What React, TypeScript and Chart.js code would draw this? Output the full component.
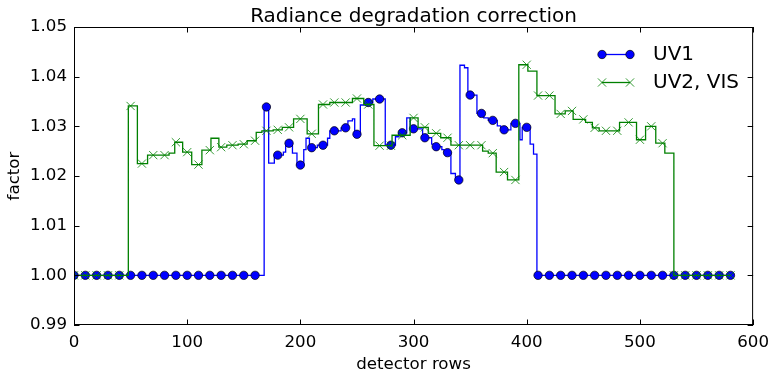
import React, { useEffect, useRef } from 'react';
import { Chart, registerables } from 'chart.js';

Chart.register(...registerables);

const chartTitle = 'Radiance degradation correction';
const xAxisTitle = 'detector rows';
const yAxisTitle = 'factor';
const seriesNames = ['UV1', 'UV2, VIS'];
const seriesColors = ['#0000ff', '#008000'];
const xTickLabels = ['0', '100', '200', '300', '400', '500', '600'];
const yTickLabels = ['0.99', '1.00', '1.01', '1.02', '1.03', '1.04', '1.05'];

// rows carrying a marker
const markerRows = [
  0, 10, 20, 30, 40, 50, 60, 70, 80, 90, 100, 110, 120, 130, 140, 150, 160, 170, 180, 190,
  200, 210, 220, 230, 240, 250, 260, 270, 280, 290, 300, 310, 320, 330, 340, 350, 360, 370, 380, 390,
  400, 410, 420, 430, 440, 450, 460, 470, 480, 490, 500, 510, 520, 530, 540, 550, 560, 570, 580,
];

const uv1MarkerValues = [
  1.0, 1.0, 1.0, 1.0, 1.0, 1.0, 1.0, 1.0, 1.0, 1.0, 1.0, 1.0, 1.0, 1.0, 1.0, 1.0, 1.0,
  1.0339, 1.0242, 1.0266, 1.0222, 1.0257, 1.0262, 1.0291, 1.0297, 1.0284, 1.0348, 1.0355,
  1.0262, 1.0287, 1.0295, 1.0277, 1.0259, 1.0247, 1.0192, 1.0363, 1.0326, 1.0312, 1.0293,
  1.0306, 1.0298,
  1.0, 1.0, 1.0, 1.0, 1.0, 1.0, 1.0, 1.0, 1.0, 1.0, 1.0, 1.0, 1.0, 1.0, 1.0, 1.0, 1.0, 1.0,
];

const uv2MarkerValues = [
  1.0, 1.0, 1.0, 1.0, 1.0,
  1.0341, 1.0225, 1.0242, 1.0242, 1.0268, 1.0248, 1.0223, 1.0252, 1.0258, 1.0262, 1.0264,
  1.0271, 1.0291, 1.0293, 1.0298, 1.0315, 1.0285, 1.0344, 1.0348, 1.0348, 1.0356, 1.0344,
  1.0261, 1.0261, 1.0282, 1.0317, 1.0298, 1.0286, 1.0277, 1.0262, 1.0262, 1.0262, 1.0246,
  1.0208, 1.0192, 1.0424, 1.0362, 1.0362, 1.0325, 1.0331, 1.0314, 1.0297, 1.0291, 1.0291,
  1.0308, 1.0273, 1.03, 1.0266,
  1.0, 1.0, 1.0, 1.0, 1.0, 1.0,
];

// per-row step curves: value holds from each row until the next listed row
const uv1StepRows = [
  0, 168, 172, 177, 185, 187, 193, 197, 203, 205, 208, 215, 224, 226, 236, 242, 246, 248, 253,
  257, 264, 275, 284, 287, 294, 297, 308, 316, 318, 325, 327, 333, 337, 341, 345, 348, 356, 362,
  366, 374, 377, 386, 394, 396, 403, 406, 409, 580,
];
const uv1StepValues = [
  1.0, 1.0339, 1.0226, 1.0242, 1.0248, 1.0266, 1.0246, 1.0222, 1.0253, 1.0276, 1.0257, 1.0262,
  1.0276, 1.0291, 1.0297, 1.0311, 1.0315, 1.0284, 1.0343, 1.0348, 1.0355, 1.0262, 1.0279, 1.0287,
  1.0317, 1.0295, 1.0277, 1.0264, 1.0259, 1.0253, 1.0247, 1.0205, 1.0192, 1.0423, 1.0418, 1.0363,
  1.0326, 1.0317, 1.0312, 1.0301, 1.0293, 1.0306, 1.0273, 1.0298, 1.0264, 1.0244, 1.0, 1.0,
];

const uv2StepRows = [
  0, 48, 56, 65, 84, 89, 96, 104, 113, 121, 128, 135, 145, 153, 161, 166, 176, 184, 194, 206,
  216, 226, 246, 256, 265, 281, 297, 304, 313, 324, 333, 361, 366, 373, 383, 393, 401, 409, 425,
  434, 441, 452, 458, 464, 482, 497, 505, 514, 522, 530, 580,
];
const uv2StepValues = [
  1.0, 1.0341, 1.0225, 1.0242, 1.0246, 1.0268, 1.0248, 1.0223, 1.0252, 1.0276, 1.0258, 1.0262,
  1.0264, 1.0271, 1.0288, 1.0291, 1.0293, 1.0298, 1.0315, 1.0285, 1.0344, 1.0348, 1.0356, 1.0344,
  1.0261, 1.0282, 1.0317, 1.0298, 1.0286, 1.0277, 1.0262, 1.025, 1.0246, 1.0208, 1.0192, 1.0424,
  1.0411, 1.0362, 1.0325, 1.0331, 1.0314, 1.0308, 1.0297, 1.0291, 1.0308, 1.0273, 1.03, 1.0266,
  1.0246, 1.0, 1.0,
];

const FONT = '"DejaVu Sans", "Liberation Sans", sans-serif';
const TICK_FONT_SIZE = 16.67;
const BIG_FONT_SIZE = 20;

function drawMarker(ctx: CanvasRenderingContext2D, kind: number, x: number, y: number) {
  ctx.save();
  if (kind === 0) {
    ctx.beginPath();
    ctx.arc(x, y, 4.2, 0, Math.PI * 2);
    ctx.fillStyle = seriesColors[0];
    ctx.fill();
    ctx.lineWidth = 0.7;
    ctx.strokeStyle = '#000';
    ctx.stroke();
  } else {
    const d = 4.1;
    ctx.beginPath();
    ctx.moveTo(x - d, y - d);
    ctx.lineTo(x + d, y + d);
    ctx.moveTo(x - d, y + d);
    ctx.lineTo(x + d, y - d);
    ctx.lineWidth = 0.8;
    ctx.strokeStyle = seriesColors[1];
    ctx.stroke();
  }
  ctx.restore();
}

const decorPlugin = {
  id: 'decor',
  afterDatasetsDraw(chart: any) {
    const { ctx, chartArea, scales } = chart;
    const { left, right, top, bottom } = chartArea;
    ctx.save();
    ctx.strokeStyle = '#000';
    ctx.lineWidth = 1;
    ctx.strokeRect(left + 0.5, top + 0.5, right - left - 1, bottom - top - 1);
    const tl = 5.5;
    ctx.beginPath();
    for (const lab of xTickLabels) {
      const px = Math.round(scales.x.getPixelForValue(Number(lab))) + 0.5;
      ctx.moveTo(px, bottom);
      ctx.lineTo(px, bottom - tl);
      ctx.moveTo(px, top);
      ctx.lineTo(px, top + tl);
    }
    for (const lab of yTickLabels) {
      const py = Math.round(scales.y.getPixelForValue(Number(lab))) + 0.5;
      ctx.moveTo(left, py);
      ctx.lineTo(left + tl, py);
      ctx.moveTo(right, py);
      ctx.lineTo(right - tl, py);
    }
    ctx.stroke();

    // title
    ctx.fillStyle = '#000';
    ctx.font = `${BIG_FONT_SIZE}px ${FONT}`;
    ctx.textAlign = 'center';
    ctx.textBaseline = 'alphabetic';
    ctx.fillText(chartTitle, (left + right) / 2, 21.5);

    // legend
    const lx0 = 602;
    const lx1 = 630;
    seriesNames.forEach((name, i) => {
      const ly = 54.5 + i * 28;
      ctx.beginPath();
      ctx.moveTo(lx0, ly);
      ctx.lineTo(lx1, ly);
      ctx.strokeStyle = seriesColors[i];
      ctx.lineWidth = 1.3;
      ctx.stroke();
      drawMarker(ctx, i, lx0, ly);
      drawMarker(ctx, i, lx1, ly);
      ctx.fillStyle = '#000';
      ctx.font = `${BIG_FONT_SIZE}px ${FONT}`;
      ctx.textAlign = 'left';
      ctx.textBaseline = 'middle';
      ctx.fillText(name, 653, ly);
    });
    ctx.restore();
  },
};

export default function App() {
  const canvasRef = useRef<HTMLCanvasElement | null>(null);

  useEffect(() => {
    const canvas = canvasRef.current;
    if (!canvas) return;
    const uv1Line = uv1StepRows.map((r, i) => ({ x: r, y: uv1StepValues[i] }));
    const uv2Line = uv2StepRows.map((r, i) => ({ x: r, y: uv2StepValues[i] }));
    const uv1Pts = markerRows.map((r, i) => ({ x: r, y: uv1MarkerValues[i] }));
    const uv2Pts = markerRows.map((r, i) => ({ x: r, y: uv2MarkerValues[i] }));

    const chart = new Chart(canvas, {
      type: 'line',
      data: {
        datasets: [
          {
            label: seriesNames[0],
            data: uv1Line,
            borderColor: seriesColors[0],
            borderWidth: 1.3,
            pointRadius: 0,
            stepped: true,
            fill: false,
            order: 4,
            clip: 0,
          } as any,
          {
            label: seriesNames[0] + ' markers',
            data: uv1Pts,
            showLine: false,
            pointStyle: 'circle',
            pointRadius: 4.2,
            pointBackgroundColor: seriesColors[0],
            pointBorderColor: '#000',
            pointBorderWidth: 0.7,
            order: 3,
            clip: 0,
          },
          {
            label: seriesNames[1],
            data: uv2Line,
            borderColor: seriesColors[1],
            borderWidth: 1.3,
            pointRadius: 0,
            stepped: true,
            fill: false,
            order: 2,
            clip: 0,
          },
          {
            label: seriesNames[1] + ' markers',
            data: uv2Pts,
            showLine: false,
            pointStyle: 'crossRot',
            pointRadius: 5.8,
            pointBackgroundColor: seriesColors[1],
            pointBorderColor: seriesColors[1],
            pointBorderWidth: 0.8,
            order: 1,
            clip: 0,
          },
        ],
      },
      options: {
        animation: false,
        responsive: false,
        devicePixelRatio: 1,
        events: [],
        layout: { padding: { left: 0, top: 27, right: 22, bottom: 0 } },
        plugins: {
          legend: { display: false },
          title: { display: false },
          tooltip: { enabled: false },
        },
        scales: {
          x: {
            type: 'linear',
            position: 'bottom',
            min: 0,
            max: 600,
            afterBuildTicks: (s: any) => {
              s.ticks = xTickLabels.map((l) => ({ value: Number(l) }));
            },
            afterFit: (s: any) => {
              s.height = 52;
            },
            grid: { display: false, drawTicks: false },
            border: { display: false },
            ticks: {
              autoSkip: false,
              maxRotation: 0,
              padding: 8,
              color: '#000',
              font: { family: FONT, size: TICK_FONT_SIZE },
              callback: (_v: any, i: number) => xTickLabels[i],
            },
            title: {
              display: true,
              text: xAxisTitle,
              color: '#000',
              font: { family: FONT, size: TICK_FONT_SIZE },
              padding: { top: 0, bottom: 2 },
            },
          },
          y: {
            type: 'linear',
            position: 'left',
            min: 0.99,
            max: 1.05,
            afterBuildTicks: (s: any) => {
              s.ticks = yTickLabels.map((l) => ({ value: Number(l) }));
            },
            afterFit: (s: any) => {
              s.width = 74;
            },
            grid: { display: false, drawTicks: false },
            border: { display: false },
            ticks: {
              autoSkip: false,
              padding: 7,
              color: '#000',
              font: { family: FONT, size: TICK_FONT_SIZE },
              callback: (_v: any, i: number) => yTickLabels[i],
            },
            title: {
              display: true,
              text: yAxisTitle,
              color: '#000',
              font: { family: FONT, size: TICK_FONT_SIZE },
              padding: { top: 5, bottom: 0 },
            },
          },
        },
      } as any,
      plugins: [decorPlugin],
    });
    return () => chart.destroy();
  }, []);

  return (
    <div style={{ position: 'fixed', left: 0, top: 0, width: 777, height: 377, background: '#fff' }}>
      <canvas ref={canvasRef} width={777} height={377} style={{ display: 'block' }} />
    </div>
  );
}
